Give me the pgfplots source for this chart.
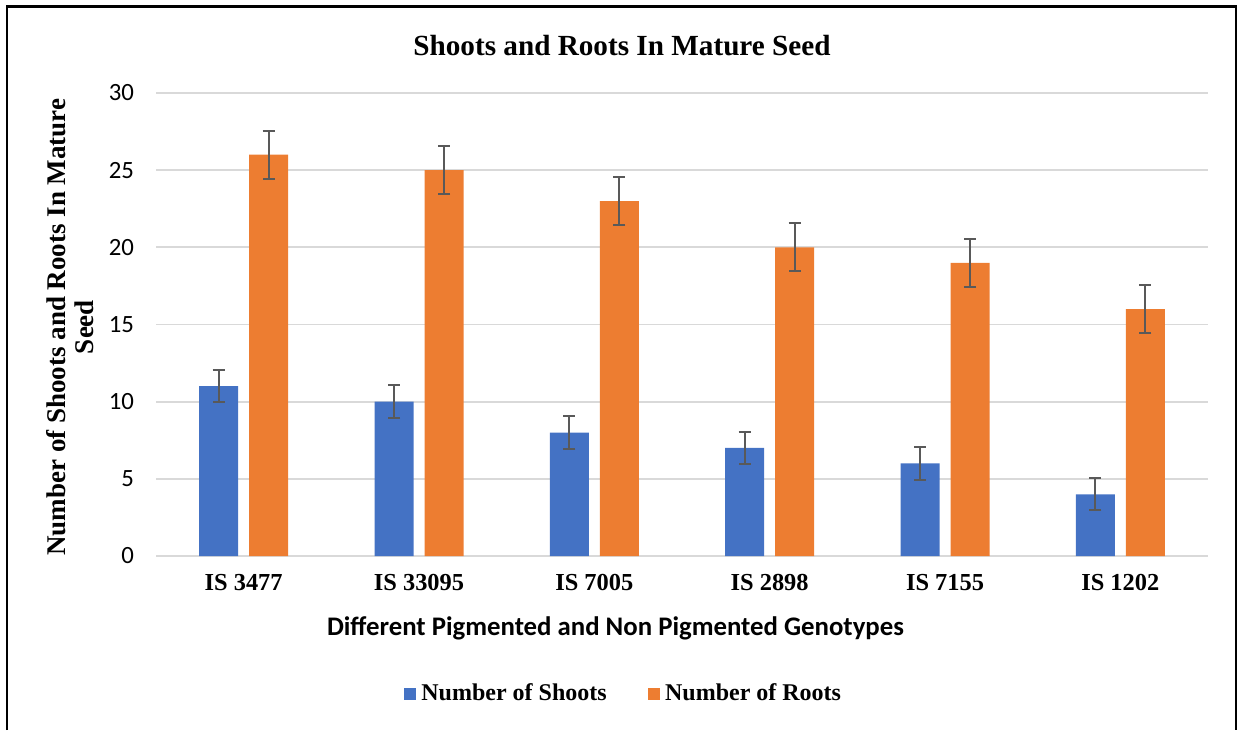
\documentclass[border=0pt]{standalone}
\usepackage{pgfplots}
\pgfplotsset{compat=1.18}
\usepackage{fontspec}
\setmainfont{Liberation Serif}
\newfontfamily\carlito{Carlito}
\definecolor{cblue}{HTML}{4472C4}
\definecolor{corange}{HTML}{ED7D31}
\definecolor{cgrid}{HTML}{D9D9D9}
\definecolor{cerr}{HTML}{595959}
\begin{document}
\begin{tikzpicture}
\useasboundingbox (0,0) rectangle (619pt,365pt);
\begin{axis}[
  at={(78pt,87pt)}, anchor=south west,
  scale only axis, width=526pt, height=231.5pt,
  ybar=5.5pt, bar width=19.5pt,
  xmin=-0.5, xmax=5.5, ymin=0, ymax=30,
  xtick={0,1,2,3,4,5},
  xticklabels={IS 3477, IS 33095, IS 7005, IS 2898, IS 7155, IS 1202},
  ytick={0,5,10,15,20,25,30},
  major tick length=0pt,
  axis line style={draw=none},
  ymajorgrids, grid style={cgrid, line width=0.9pt},
  /pgf/number format/assume math mode=true,
  yticklabel style={font=\carlito\fontsize{12.4}{14}\selectfont, xshift=-7.5pt},
  xticklabel style={font=\bfseries\fontsize{12.2}{14}\selectfont, yshift=-5.5pt},
  legend columns=2,
  legend style={draw=none, at={(0.4449,-0.298)}, anchor=center,
    font=\bfseries\fontsize{12}{14}\selectfont,
    /tikz/every even column/.append style={column sep=19pt},
    nodes={inner sep=1.5pt}},
  legend image code/.code={\fill[#1] (0pt,-3.1pt) rectangle (6.2pt,3.1pt);},
  error bars/error bar style={cerr, line width=1pt},
  error bars/error mark options={rotate=90, mark size=3pt, cerr, line width=1pt},
]
\addplot[fill=cblue, draw=none, error bars/.cd, y dir=both, y explicit]
  coordinates {(0,11) +- (0,1.05) (1,10) +- (0,1.05) (2,8) +- (0,1.05) (3,7) +- (0,1.05) (4,6) +- (0,1.05) (5,4) +- (0,1.05)};
\addplot[fill=corange, draw=none, error bars/.cd, y dir=both, y explicit]
  coordinates {(0,26) +- (0,1.55) (1,25) +- (0,1.55) (2,23) +- (0,1.55) (3,20) +- (0,1.55) (4,19) +- (0,1.55) (5,16) +- (0,1.55)};
\legend{\hspace{1pt}Number of Shoots, \hspace{1pt}Number of Roots}
\end{axis}
\node[font=\bfseries\fontsize{14.6}{16}\selectfont] at (311pt,342pt) {Shoots and Roots In Mature Seed};
\node[font=\bfseries\fontsize{13.5}{14}\selectfont, rotate=90, align=center] at (35pt,201.5pt) {Number of Shoots and Roots In Mature\\Seed};
\node[font=\carlito\bfseries\fontsize{13.4}{15}\selectfont] at (307.75pt,51pt) {Different Pigmented and Non Pigmented Genotypes};
\draw[line width=1.25pt] (3.5pt,0pt) -- (3.5pt,361.75pt) -- (618pt,361.75pt) -- (618pt,0pt);
\end{tikzpicture}
\end{document}
